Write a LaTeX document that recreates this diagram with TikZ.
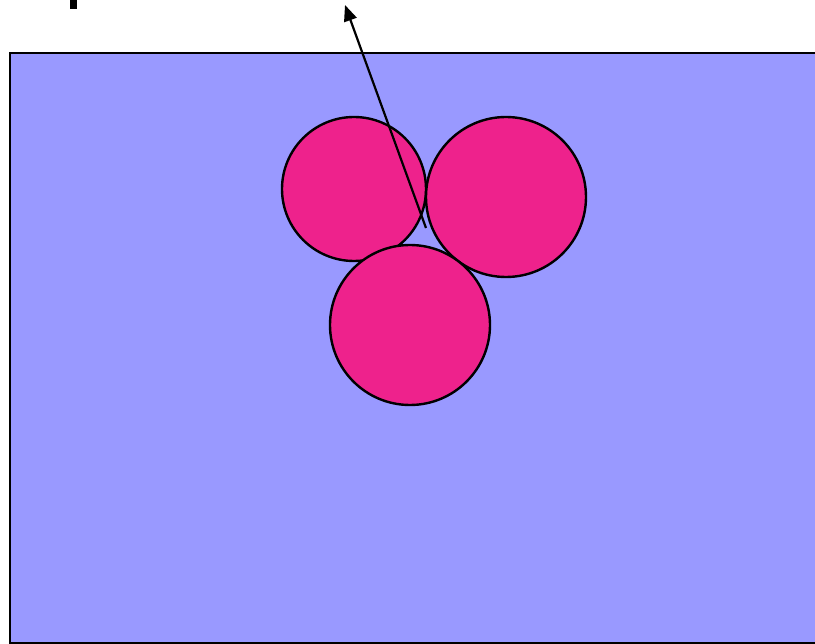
\documentclass[tikz,border=0pt]{standalone}
\usepackage{xcolor}
\usepackage{tikz}
\usetikzlibrary{
  arrows.meta,
  positioning
}
\definecolor{panelblue}{RGB}{153,153,255}
\definecolor{ballpink}{RGB}{238,34,140}
\tikzset{
  panel/.style={draw=black,line width=2.6pt,fill=panelblue},
  ball/.style={circle,draw=black,line width=2.4pt,fill=ballpink,inner sep=0pt},
  kickflow/.style={-{Triangle[length=16pt,width=13pt]},line width=2.2pt,draw=black}
}

\begin{document}
\begin{tikzpicture}[x=1pt,y=-1pt]
  \useasboundingbox (0,0) rectangle (815,644);
  \clip (0,0) rectangle (815,644);
  \fill[white] (0,0) rectangle (815,644);
  \fill[black] (70,0) rectangle (77,9);
  \draw[panel] (10,53) rectangle (822,643.5);
  \node[ball,minimum size=144pt] (left) at (354,189) {};
  \node[ball,minimum size=160pt] (right) at (506,197) {};
  \node[ball,minimum size=160pt] (bottom) at (410,325) {};
  \coordinate (start) at (426,228);
  \coordinate (aim) at (345,5);
  \draw[kickflow] (start)--(aim);
\end{tikzpicture}
\end{document}
